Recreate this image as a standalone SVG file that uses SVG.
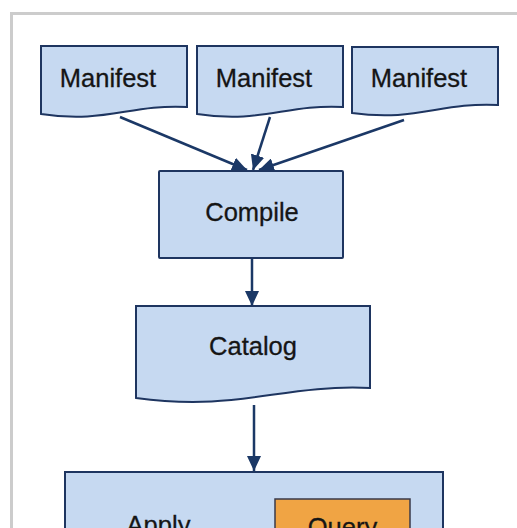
<svg xmlns="http://www.w3.org/2000/svg" width="517" height="528" viewBox="0 0 517 528">
<style>
.box{fill:#c6d9f1;stroke:#1e3560;stroke-width:2}
.q{fill:#f0a444;stroke:#3a3a4a;stroke-width:1.5}
.t{font-family:"Liberation Sans",Arial,sans-serif;font-size:25.5px;fill:#151515;stroke:#151515;stroke-width:0.3;text-anchor:middle}
.c{stroke:#1b3866;stroke-width:2.5;fill:none;marker-end:url(#ah)}
</style>
<defs>
<marker id="ah" markerUnits="userSpaceOnUse" markerWidth="16" markerHeight="14" refX="15" refY="7" orient="auto">
<path d="M0,0 L15,7 L0,14 Z" fill="#1b3866"/>
</marker>
</defs>
<rect width="517" height="528" fill="#ffffff"/>
<rect x="11.5" y="13.5" width="520" height="530" fill="none" stroke="#cccccc" stroke-width="3"/>
<g id="connectors">
<line class="c" x1="120" y1="117" x2="247" y2="170"/>
<line class="c" x1="270" y1="117" x2="253" y2="170"/>
<line class="c" x1="404" y1="120" x2="259" y2="170"/>
<line class="c" x1="252" y1="258" x2="252" y2="306"/>
<line class="c" x1="254" y1="405" x2="254" y2="471"/>
</g>
<g id="manifest1">
<path class="box" d="M41,46 H187 V107 C130,104 105,124 41,114 Z"/>
<text class="t" x="108" y="87">Manifest</text>
</g>
<g id="manifest2">
<path class="box" d="M197,46 H343 V107 C286,104 261,124 197,114 Z"/>
<text class="t" x="264" y="87">Manifest</text>
</g>
<g id="manifest3">
<path class="box" d="M352,47 H498 V105 C441,102 416,122 352,113 Z"/>
<text class="t" x="419" y="87">Manifest</text>
</g>
<g id="compile">
<rect class="box" x="159" y="171" width="184" height="87" rx="1"/>
<text class="t" x="252" y="221">Compile</text>
</g>
<g id="catalog">
<path class="box" d="M136,306 H370 V388 C280,384 240,412 136,398 Z"/>
<text class="t" x="253" y="355">Catalog</text>
</g>
<g id="apply">
<rect class="box" x="65" y="472" width="378" height="80"/>
<text class="t" x="158.5" y="534">Apply</text>
</g>
<g id="query">
<rect class="q" x="275" y="499" width="135" height="50"/>
<text class="t" x="342.5" y="536">Query</text>
</g>
</svg>
